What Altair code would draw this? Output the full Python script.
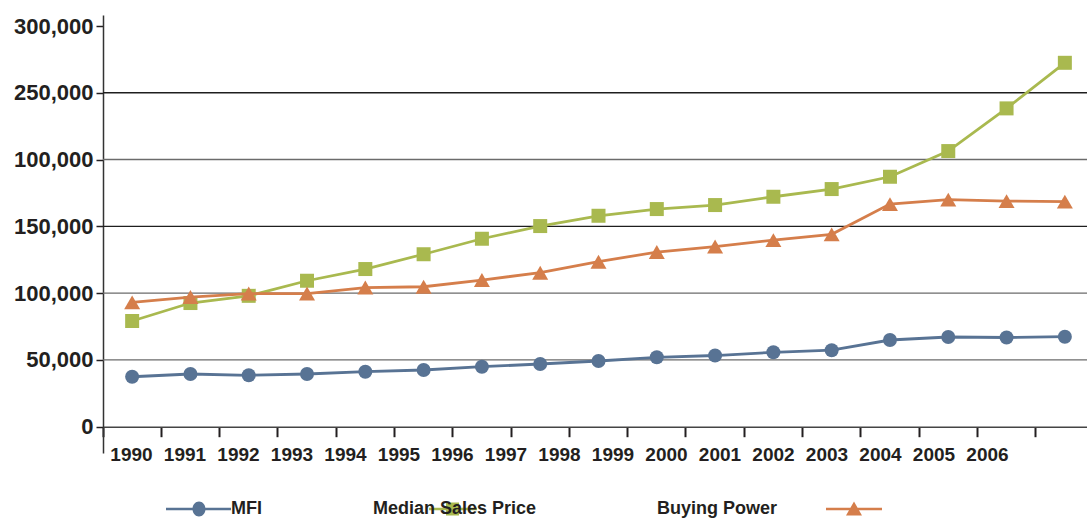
import altair as alt
import pandas as pd

# ---- data ----
years = [str(y) for y in range(1990, 2007)]
x_labels = [str(y) for y in range(1990, 2007)]
mfi = [37400, 39450, 38470, 39450, 41170, 42440, 44910, 46930, 49180, 51950,
       53290, 55690, 57260, 64900, 67140, 66770, 67370]
median_sales_price = [79120, 92590, 97980, 109280, 118040, 129120, 140720, 150220, 157930,
                      162950, 165940, 172160, 177920, 187130, 206360, 238320, 272450]
buying_power = [93110, 97080, 99700, 99700, 104190, 104790, 109800, 115270, 123500,
                130760, 134880, 139740, 144010, 166690, 170060, 168940, 168560]
series_names = ["MFI", "Median Sales Price", "Buying Power"]
y_tick_values = [0, 50000, 100000, 150000, 200000, 250000, 300000]
y_tick_labels = ["0", "50,000", "100,000", "150,000", "100,000", "250,000", "300,000"]
grid_values = [50000, 100000, 150000, 200000, 250000]

# ---- styling ----
BLUE, GREEN, ORANGE = "#587394", "#a9b94f", "#d57e4b"
TXT = "#231f20"
FONT = "Liberation Sans, Arial, sans-serif"

label_expr = "[{}][indexof([{}], datum.value)]".format(
    ",".join("'%s'" % l for l in y_tick_labels),
    ",".join(str(v) for v in y_tick_values),
)

Y = alt.Y(
    "value:Q",
    scale=alt.Scale(domain=[-19690, 308240], nice=False, zero=False),
    axis=alt.Axis(values=y_tick_values, labelExpr=label_expr, title=None, grid=False,
                  tickSize=7, tickWidth=1.5, tickColor=TXT, domainColor="#333333",
                  domainWidth=1.5, labelFont=FONT, labelFontSize=22, labelFontWeight="bold",
                  labelColor=TXT, labelPadding=3),
)
X = alt.X(
    "year:N",
    scale=alt.Scale(type="band", domain=years, range=[0, 991], paddingInner=0, paddingOuter=0),
    axis=alt.Axis(labels=False, title=None, grid=False, bandPosition=0, tickSize=10,
                  tickWidth=2, tickColor=TXT, domainColor="#444444", domainWidth=1.5,
                  offset=-26.3),
)

grid_df = pd.DataFrame({"value": grid_values})
grid = alt.Chart(grid_df).mark_rule(strokeWidth=1.4).encode(
    y=Y,
    color=alt.condition("datum.value == 250000 || datum.value == 150000",
                        alt.value("#1e1e1e"), alt.value("#6b6b6b")),
)

# legend symbols drawn in pixels around the (tiny) symbol anchor
def seg(x0, x1, t=1.3):
    return "M{a},-{t} H{b} V{t} H{a} Z ".format(a=x0, b=x1, t=t)

mfi_sym = seg(-56, 9) + "M-29.5,0 A6.5,7.5 0 1,1 -16.5,0 A6.5,7.5 0 1,1 -29.5,0 Z"
msp_sym = seg(65, 113) + "M82,-6.5 H95 V6.5 H82 Z"
bp_sym = seg(178, 234) + "M198,6.5 L206,-7.5 L214,6.5 Z"

# name, values, colour, shape, size, legend symbol, legendX
specs = [
    (series_names[0], mfi, BLUE, "circle", 196, mfi_sym, 110),
    (series_names[1], median_sales_price, GREEN, "square", 196, msp_sym, 252),
    (series_names[2], buying_power, ORANGE, "triangle-up", 256, bp_sym, 536),
]

layers = [grid]
for name, vals, col, shape, size, sym, lx in specs:
    df = pd.DataFrame({"year": years, "value": vals, "series": name})
    line = alt.Chart(df).mark_line(color=col, strokeWidth=2.8).encode(x=X, y=Y)
    pts = alt.Chart(df).mark_point(shape=shape, size=size, filled=True, opacity=1,
                                   strokeWidth=0).encode(
        x=X, y=Y,
        color=alt.Color("series:N", scale=alt.Scale(domain=[name], range=[col]),
                        legend=alt.Legend(title=None, orient="none", legendX=lx, legendY=485,
                                          symbolType=sym, symbolSize=4,
                                          symbolStrokeWidth=0, padding=0,
                                          labelOffset=0, labelFont=FONT,
                                          labelFontSize=18, labelFontWeight="bold",
                                          labelColor=TXT, labelLimit=0)),
    )
    layers += [line, pts]

main = alt.layer(*layers).resolve_scale(color="independent")

lab_df = pd.DataFrame({"label": x_labels})
labels = alt.Chart(lab_df).mark_point(opacity=0).encode(
    x=alt.X("label:N",
            scale=alt.Scale(type="point", domain=x_labels, range=[28, 884], padding=0),
            axis=alt.Axis(orient="bottom", offset=-26.3, ticks=False, domain=False,
                          labelPadding=19, labelFont=FONT, labelFontSize=19,
                          labelFontWeight="bold", labelColor=TXT, labelAngle=0,
                          title=None, grid=False)),
)

chart = alt.layer(main, labels).resolve_scale(x="independent").properties(
    width=984, height=438,
    autosize=alt.AutoSizeParams(type="none"),
    padding={"left": 103, "top": 15, "right": 0, "bottom": 67},
    background="white",
).configure_view(strokeWidth=0)

chart.save("out.html", embed_options={"renderer": "svg", "actions": False})
